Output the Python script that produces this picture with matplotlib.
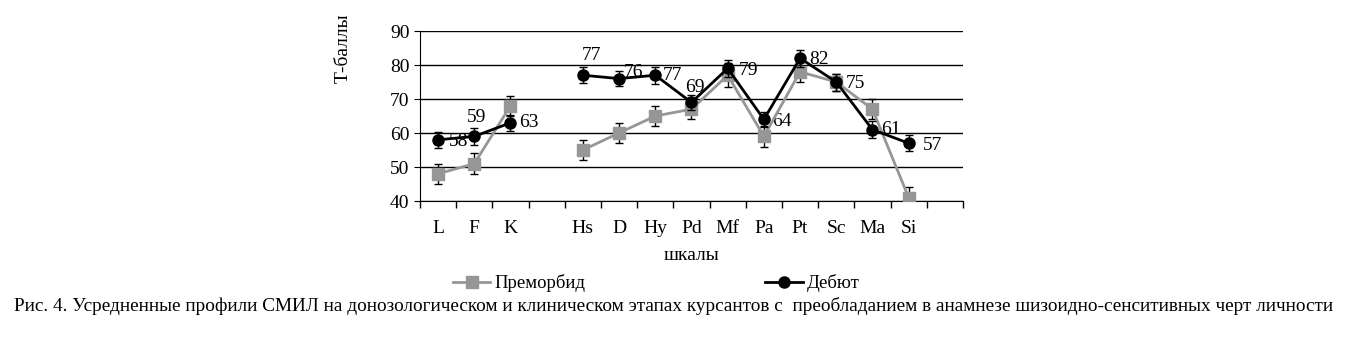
import numpy as np
import matplotlib.pyplot as plt
from matplotlib.lines import Line2D

plt.rcParams['font.family'] = ['Liberation Serif', 'DejaVu Serif']

# шкалы СМИЛ (пустые позиции — разрыв и запас справа)
scales = ['L', 'F', 'K', '', 'Hs', 'D', 'Hy', 'Pd', 'Mf', 'Pa', 'Pt', 'Sc', 'Ma', 'Si', '']

premorbid = [48, 51, 68, np.nan, 55, 60, 65, 67, 77, 59, 78, 75, 67, 41, np.nan]
premorbid_err = [3, 3, 3, np.nan, 3, 3, 3, 3, 3.5, 3, 3, 2.5, 3, 3, np.nan]

debut = [58, 59, 63, np.nan, 77, 76, 77, 69, 79, 64, 82, 75, 61, 57, np.nan]
debut_err = [2.3, 2.5, 2.3, np.nan, 2.3, 2.3, 2.5, 2.3, 2.5, 2.3, 2.5, 2.5, 2.5, 2.3, np.nan]

# куда ставить подпись значения (смещение в пикселях)
label_offsets = [(20, -2), (2, 19), (18, 0), None, (9, 20), (14, 6), (17, 0), (3, 15),
                 (21, -2), (18, -2), (19, -1), (19, -1), (18, 0), (24, -2), None]

caption = ('Рис. 4. Усредненные профили СМИЛ на донозологическом и клиническом этапах курсантов с  '
           'преобладанием в анамнезе шизоидно-сенситивных черт личности')

fig = plt.figure(figsize=(13.47, 3.64), dpi=100)
ax = fig.add_axes([0.3118, 0.4478, 0.4031, 0.467])

x = np.arange(len(scales))

ax.errorbar(x, premorbid, yerr=premorbid_err, color='#969696', marker='s', markersize=8,
            linewidth=2, elinewidth=1, ecolor='black', capsize=3, zorder=3)
ax.errorbar(x, debut, yerr=debut_err, color='black', marker='o', markersize=8,
            linewidth=2, elinewidth=1, ecolor='black', capsize=3, zorder=4)

for xi, v, off in zip(x, debut, label_offsets):
    if off is None:
        continue
    ax.annotate(f'{v:.0f}', (xi, v), xytext=off, textcoords='offset pixels',
                ha='center', va='center', fontsize=14)

ax.set_xlim(-0.5, len(scales) - 0.5)
ax.set_ylim(40, 90)
ax.set_yticks([40, 50, 60, 70, 80, 90])
ax.set_xticks(x)
ax.set_xticklabels(scales)
ax.set_xticks(np.arange(-0.5, len(scales)), minor=True)
ax.tick_params(axis='x', which='major', length=0, pad=14, labelsize=14)
ax.tick_params(axis='x', which='minor', length=5, direction='out', width=1)
ax.tick_params(axis='y', length=4, direction='out', labelsize=14)

ax.grid(axis='y', color='black', linewidth=1)
ax.set_axisbelow(True)
for side in ['top', 'right']:
    ax.spines[side].set_visible(False)
ax.spines['left'].set_color('black')
ax.spines['bottom'].set_color('black')

ax.set_xlabel('шкалы', fontsize=14, labelpad=7)
ax.set_ylabel('Т-баллы', fontsize=14)
ax.yaxis.set_label_coords(-0.125, 0.9)

handles = [
    Line2D([], [], color='#969696', marker='s', markersize=8, linewidth=2),
    Line2D([], [], color='black', marker='o', markersize=8, linewidth=2),
]
fig.legend(handles, ['Преморбид', 'Дебют'], loc='center', bbox_to_anchor=(0.487, 0.222),
           ncol=2, frameon=False, fontsize=13.5, columnspacing=9.6, handlelength=2,
           handletextpad=0.2)

fig.text(0.5, 0.16, caption, ha='center', va='center', fontsize=13.9)

fig.savefig('out.png', dpi=100)
